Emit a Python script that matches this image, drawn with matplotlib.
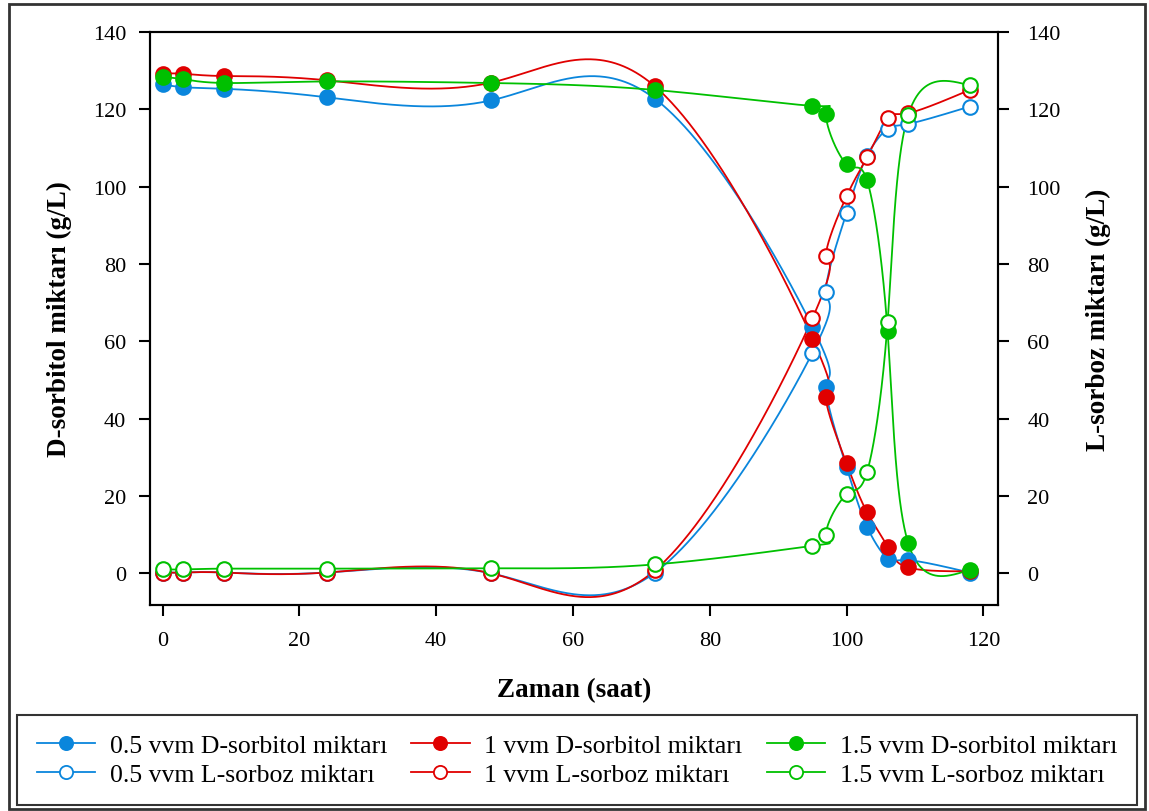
import numpy as np
import matplotlib.pyplot as plt
from matplotlib.patches import Rectangle
from matplotlib.lines import Line2D

plt.rcParams['font.family'] = ['Liberation Serif', 'DejaVu Serif']

# sampling times (hours)
t = [0, 3, 9, 24, 48, 72, 95, 97, 100, 103, 106, 109, 118]

# D-sorbitol (g/L)
d_05 = [126.5, 125.7, 125.3, 123.1, 122.3, 122.7, 63.8, 48.3, 27.4, 12.0, 3.8, 3.4, 0.2]
d_10 = [129.2, 129.2, 128.6, 127.5, 126.9, 125.9, 60.7, 45.5, 28.4, 15.8, 6.9, 1.5, 0.5]
d_15 = [128.3, 127.8, 126.8, 127.2, 126.8, 125.0, 120.9, 118.8, 105.8, 101.6, 62.6, 7.9, 0.9]

# L-sorboz (g/L)
l_05 = [0.2, 0.2, 0.2, 0.2, 0.0, 0.2, 57.0, 72.8, 93.2, 108.0, 115.0, 116.2, 120.7]
l_10 = [0.2, 0.2, 0.2, 0.2, 0.0, 0.8, 65.9, 82.1, 97.5, 107.6, 117.7, 119.0, 125.0]
l_15 = [1.0, 1.0, 1.2, 1.2, 1.3, 2.3, 7.1, 9.9, 20.4, 26.2, 64.9, 118.4, 126.2]

labels = ['0.5 vvm D-sorbitol miktarı', '0.5 vvm L-sorboz miktarı',
          '1 vvm D-sorbitol miktarı', '1 vvm L-sorboz miktarı',
          '1.5 vvm D-sorbitol miktarı', '1.5 vvm L-sorboz miktarı']

blue = '#0a86dc'
red = '#e00000'
green = '#00c000'


def natural_coeffs(s, y):
    # natural cubic spline, returns the c coefficients
    k = len(s)
    h = np.diff(s)
    A = np.zeros((k, k))
    b = np.zeros(k)
    A[0, 0] = 1
    A[-1, -1] = 1
    for i in range(1, k - 1):
        A[i, i - 1] = h[i - 1]
        A[i, i] = 2 * (h[i - 1] + h[i])
        A[i, i + 1] = h[i]
        b[i] = 3 * ((y[i + 1] - y[i]) / h[i] - (y[i] - y[i - 1]) / h[i - 1])
    return np.linalg.solve(A, b)


def eval_spline(s, y, c, ss):
    h = np.diff(s)
    idx = np.clip(np.searchsorted(s, ss) - 1, 0, len(s) - 2)
    ds = ss - s[idx]
    hi = h[idx]
    bb = (y[idx + 1] - y[idx]) / hi - hi * (2 * c[idx] + c[idx + 1]) / 3
    dd = (c[idx + 1] - c[idx]) / (3 * hi)
    return y[idx] + bb * ds + c[idx] * ds**2 + dd * ds**3


def param_spline(x, y, n=1500):
    # parametric spline: x and y each splined against the point index
    x = np.asarray(x, float)
    y = np.asarray(y, float)
    s = np.arange(len(x), dtype=float)
    ss = np.linspace(0, s[-1], n)
    xs = eval_spline(s, x, natural_coeffs(s, x), ss)
    ys = eval_spline(s, y, natural_coeffs(s, y), ss)
    return xs, ys


fig = plt.figure(figsize=(11.49, 8.12), dpi=100)
ax = fig.add_axes([0.1305, 0.2537, 0.7381, 0.7057])
ax2 = ax.twinx()

series = [(d_05, blue, True), (l_05, blue, False),
          (d_10, red, True), (l_10, red, False),
          (d_15, green, True), (l_15, green, False)]

for vals, col, filled in series:
    xs, ys = param_spline(t, vals)
    ax.plot(xs, ys, color=col, lw=1.3, zorder=2)
    ax.plot(t, vals, 'o', ms=10.5, mec=col, mew=1.5,
            mfc=col if filled else 'white', zorder=3)

for a in (ax, ax2):
    a.set_ylim(-8.2, 140)
    a.set_yticks(range(0, 141, 20))
    a.tick_params(direction='out', length=8, width=1.5, labelsize=16)
    for s in ('left', 'right', 'bottom', 'top'):
        a.spines[s].set_linewidth(1.5)
ax.tick_params(axis='y', pad=9)
ax.tick_params(axis='x', pad=11)
ax2.tick_params(axis='y', pad=13)

ax.set_xlim(-1.86, 122.15)
ax.set_xticks(range(0, 121, 20))
ax.set_xlabel('Zaman (saat)', fontsize=19.5, fontweight='bold', labelpad=19.5)
ax.set_ylabel('D-sorbitol miktarı (g/L)', fontsize=19.5, fontweight='bold', labelpad=15)
ax2.set_ylabel('L-sorboz miktarı (g/L)', fontsize=19.5, fontweight='bold', labelpad=18)

handles = []
for vals, col, filled in series:
    handles.append(Line2D([], [], color=col, lw=1.3, marker='o', ms=9.5, mec=col,
                          mew=1.3, mfc=col if filled else 'white'))
leg = fig.legend(handles, labels, ncol=3, loc='center',
                 bbox_to_anchor=(577 / 1149, 1 - 761 / 812),
                 fontsize=18.5, frameon=True, fancybox=False, edgecolor='black',
                 handlelength=2.26, columnspacing=0.95, handletextpad=0.58,
                 labelspacing=0.2, borderpad=0.75, borderaxespad=0)
leg.get_frame().set_linewidth(1.5)

fig.patches.append(Rectangle((9 / 1149, 2 / 812), 1136 / 1149, 805 / 812,
                             transform=fig.transFigure, fill=False,
                             edgecolor='#333333', lw=2))

fig.savefig('out.png', dpi=100)
